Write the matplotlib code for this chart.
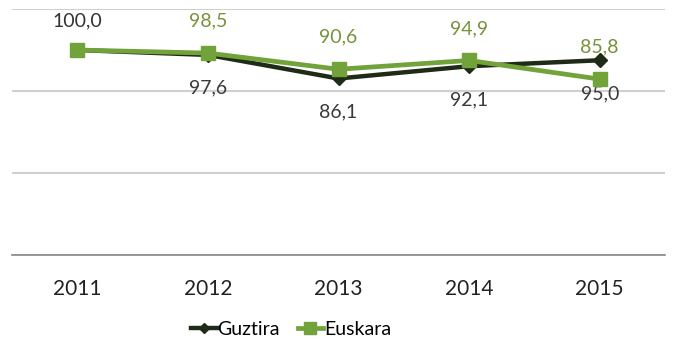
import matplotlib
matplotlib.use("Agg")
import matplotlib.pyplot as plt
from matplotlib.ticker import MultipleLocator

years = ["2011", "2012", "2013", "2014", "2015"]
guztira = [100.0, 97.6, 86.1, 92.1, 95.0]
euskara = [100.0, 98.5, 90.6, 94.9, 85.8]
guztira_labels = ["100,0", "97,6", "86,1", "92,1", "95,0"]
euskara_labels = ["", "98,5", "90,6", "94,9", "85,8"]

plt.rcParams['font.family'] = ['Lato', 'DejaVu Sans']

fig = plt.figure(figsize=(6.77, 3.49), dpi=100)
ax = fig.add_axes([12/677, 94/349, 653/677, 246/349])

x = list(range(len(years)))
dark = "#1f2a17"
green = "#72a23a"
ax.plot(x, guztira, color=dark, lw=3.2, marker="D", markersize=7, zorder=3, label="Guztira")
ax.plot(x, euskara, color=green, lw=3.4, marker="s", markersize=10, zorder=4, label="Euskara")

for i in x:
    if i == 0:
        ax.annotate(guztira_labels[i], (i, guztira[i]), xytext=(0, 21), textcoords="offset points",
                    ha="center", va="center", fontsize=14, color="#333333")
    else:
        ax.annotate(guztira_labels[i], (i, guztira[i]), xytext=(0, -24), textcoords="offset points",
                    ha="center", va="center", fontsize=14, color="#3a3a3a")
        ax.annotate(euskara_labels[i], (i, euskara[i]), xytext=(0, 23), textcoords="offset points",
                    ha="center", va="center", fontsize=14, color="#76923c")

ax.set_xlim(-0.5, 4.5)
ax.set_ylim(0, 120)
ax.yaxis.set_major_locator(MultipleLocator(40))
ax.set_yticklabels([])
ax.tick_params(axis="y", length=0)
ax.set_xticks(x)
ax.set_xticklabels(years, fontsize=15, color="#222222")
ax.tick_params(axis="x", length=0, pad=17)
ax.grid(axis="y", color="#d0d0d0", lw=1.5)
ax.set_axisbelow(True)
for s in ["top", "left", "right"]:
    ax.spines[s].set_visible(False)
ax.spines["bottom"].set_color("#888888")
ax.spines["bottom"].set_linewidth(1.2)

leg = fig.legend(loc="center", bbox_to_anchor=(0.43, 0.055), ncol=2, frameon=False,
                 fontsize=14, handlelength=1.3, handletextpad=0.05, columnspacing=0.9,
                 markerscale=0.8)

fig.savefig("out.png", dpi=100)
